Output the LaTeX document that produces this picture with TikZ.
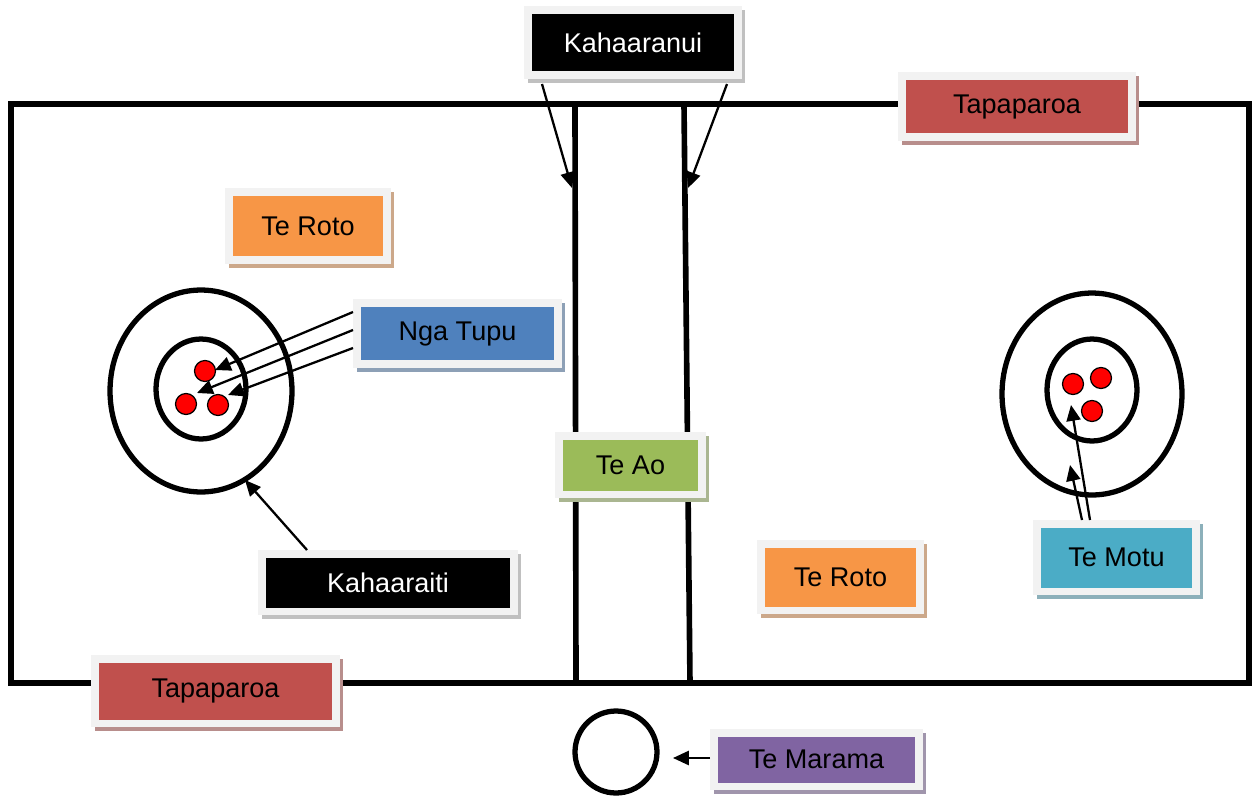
\documentclass[tikz,border=0pt]{standalone}
\usepackage{fontspec}
\setmainfont{Liberation Sans}
\usetikzlibrary{arrows.meta,shadows}
\definecolor{framegray}{HTML}{F2F2F2}
\definecolor{cred}{HTML}{C0504D}
\definecolor{corange}{HTML}{F79646}
\definecolor{cblue}{HTML}{4F81BD}
\definecolor{cgreen}{HTML}{9BBB59}
\definecolor{caqua}{HTML}{4BACC6}
\definecolor{cpurple}{HTML}{8064A2}
\definecolor{shblack}{HTML}{C0C0C0}
\tikzset{
  lbl/.style 2 args={fill=framegray, inner sep=0pt, font=\fontsize{15.4}{18}\selectfont,
    path picture={\fill[#1] ([shift={(0.15cm,-0.15cm)}]path picture bounding box.north west) rectangle ([shift={(-0.15cm,0.15cm)}]path picture bounding box.south east);},
    drop shadow={shadow xshift=0.07cm, shadow yshift=-0.08cm, fill=#2, opacity=1}},
  clbl/.style={lbl={#1}{#1!50!gray!75!white}},
  blbl/.style={lbl={black}{shblack}, text=white},
  struct/.style={line width=3.2pt},
  ring/.style={line width=3pt},
  arr/.style={line width=1.3pt, -{Triangle[length=9pt,width=8pt]}},
  dot/.style={circle, fill=red, draw=black, line width=0.7pt, minimum size=0.42cm, inner sep=0pt}
}
\begin{document}
\begin{tikzpicture}[x=0.02cm, y=-0.02cm]
\useasboundingbox (0,0) rectangle (1252,798);
% structure
\draw[struct] (11,104) rectangle (1249,683);
\draw[struct] (575,104) -- (576,683);
\draw[struct] (684,104) -- (690,683);
% rings
\draw[ring] (201,391) ellipse [x radius=1.82cm, y radius=2.02cm];
\draw[ring] (201,389) ellipse [x radius=0.9cm, y radius=1.0cm];
\draw[ring] (1092,394) ellipse [x radius=1.8cm, y radius=2.02cm];
\draw[ring] (1092,390) ellipse [x radius=0.9cm, y radius=1.02cm];
\draw[ring] (616,752) circle [radius=0.82cm];
% dots
\node[dot] (d1) at (205,371) {};
\node[dot] (d2) at (186,404) {};
\node[dot] (d3) at (218,405) {};
\node[dot] (d4) at (1073,384) {};
\node[dot] (d5) at (1101,378) {};
\node[dot] (d6) at (1092,411) {};
% labels
\node[blbl, minimum width=4.36cm, minimum height=1.46cm] (kn) at (633,42.5) {Kahaaranui};
\node[clbl=cred, minimum width=4.76cm, minimum height=1.38cm] (tp1) at (1017,106.5) {Tapaparoa};
\node[clbl=corange, minimum width=3.32cm, minimum height=1.52cm] (tr1) at (308,226) {Te Roto};
\node[clbl=cblue, minimum width=4.18cm, minimum height=1.38cm] (nt) at (457.5,333.5) {Nga Tupu};
\node[clbl=cgreen, minimum width=3.02cm, minimum height=1.32cm] (ta) at (630.5,465) {Te Ao};
\node[blbl, minimum width=5.2cm, minimum height=1.3cm] (kt) at (388,582.5) {Kahaaraiti};
\node[clbl=corange, minimum width=3.34cm, minimum height=1.48cm] (tr2) at (840.5,577) {Te Roto};
\node[clbl=caqua, minimum width=3.34cm, minimum height=1.5cm] (tm) at (1116.5,557.5) {Te Motu};
\node[clbl=cred, minimum width=4.98cm, minimum height=1.44cm] (tp2) at (215.5,691) {Tapaparoa};
\node[clbl=cpurple, minimum width=4.26cm, minimum height=1.22cm] (mr) at (816.5,759.5) {Te Marama};
% connector end points
\coordinate (ka1) at (542,84);
\coordinate (ka1e) at (572,188);
\coordinate (ka2) at (727,84);
\coordinate (ka2e) at (688,188);
\coordinate (nt1) at (353,312);
\coordinate (nt1e) at (215,370);
\coordinate (nt2) at (353,330);
\coordinate (nt2e) at (197,393);
\coordinate (nt3) at (353,348);
\coordinate (nt3e) at (228,395);
\coordinate (kt1) at (307,550);
\coordinate (kt1e) at (245,480);
\coordinate (tm1) at (1082,520);
\coordinate (tm1e) at (1070,465);
\coordinate (tm2) at (1090,520);
\coordinate (tm2e) at (1071,405);
\coordinate (mr1) at (710,758);
\coordinate (mr1e) at (673,758);
% connectors
\draw[arr] (ka1) -- (ka1e);
\draw[arr] (ka2) -- (ka2e);
\draw[arr] (nt1) -- (nt1e);
\draw[arr] (nt2) -- (nt2e);
\draw[arr] (nt3) -- (nt3e);
\draw[arr] (kt1) -- (kt1e);
\draw[arr] (tm1) -- (tm1e);
\draw[arr] (tm2) -- (tm2e);
\draw[arr] (mr1) -- (mr1e);
\end{tikzpicture}
\end{document}
